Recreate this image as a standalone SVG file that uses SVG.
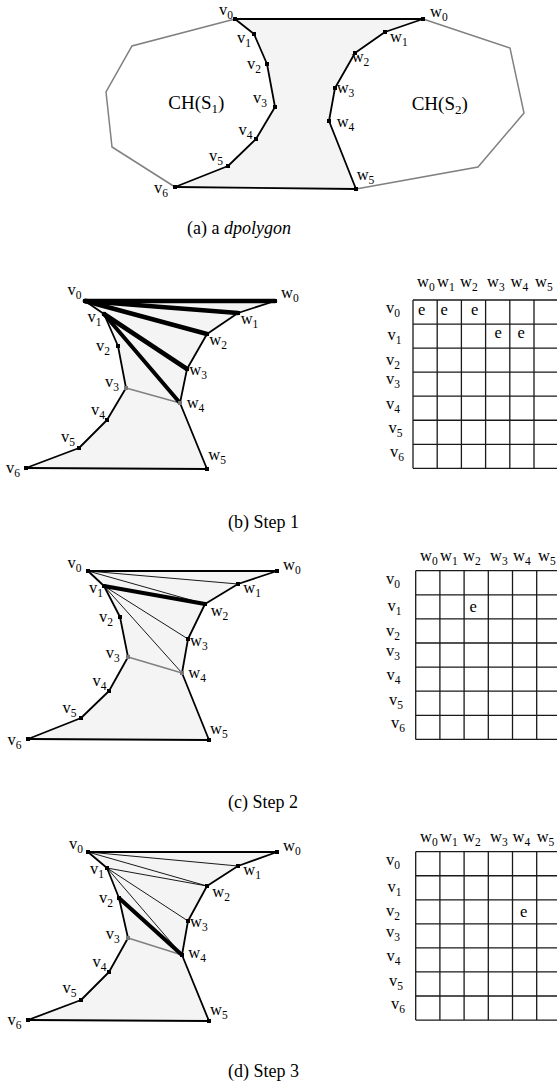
<svg xmlns="http://www.w3.org/2000/svg" width="557" height="1084" viewBox="0 0 557 1084">
<style>
text{font-family:"Liberation Serif","Times New Roman",serif;fill:#000}
.lbl{font-size:16.5px}
.sub{font-size:11.5px}
.big{font-size:19px}
.bsub{font-size:13px}
.cap{font-size:18px}
.poly{fill:#f4f4f4;stroke:none}
.hull{fill:none;stroke:#808080;stroke-width:1.5}
.edge{fill:none;stroke:#000;stroke-width:1.8;stroke-linejoin:round}
.thick{stroke:#000;stroke-width:4.5;stroke-linecap:round}
.mid{stroke:#000;stroke-width:4;stroke-linecap:round}
.thin{stroke:#000;stroke-width:0.9}
.gray{stroke:#808080;stroke-width:1.5}
.grid{fill:none;stroke:#1a1a1a;stroke-width:1.3}
.pt{fill:#000}
.gpt{fill:#777}
</style>

<!-- ===== (a) ===== -->
<g id="panel-a">
<polygon class="poly" points="235,19 254,34 267,64 275,107 256,139 228,166 175,187 356,189 329,121 335,88 355,53 385,32 423,19"/>
<g id="a-connectors">
<polyline class="hull" points="235,19 132,46 106,92 112,147 175,187"/>
<polyline class="hull" points="423,19 510,48 524,113 478,167 356,189"/>
<polyline class="edge" points="235,19 254,34 267,64 275,107 256,139 228,166 175,187"/>
<polyline class="edge" points="423,19 385,32 355,53 335,88 329,121 356,189"/>
<line class="edge" x1="235" y1="19" x2="423" y2="19"/>
<line class="edge" x1="175" y1="187" x2="356" y2="189"/>
</g>
<g id="a-v0"><rect class="pt" x="233" y="17" width="4" height="4"/><text class="lbl" x="219" y="15">v<tspan class="sub" dy="4">0</tspan></text></g>
<g id="a-v1"><rect class="pt" x="252" y="32" width="4" height="4"/><text class="lbl" x="237" y="42.7">v<tspan class="sub" dy="4">1</tspan></text></g>
<g id="a-v2"><rect class="pt" x="265" y="62" width="4" height="4"/><text class="lbl" x="247" y="69.3">v<tspan class="sub" dy="4">2</tspan></text></g>
<g id="a-v3"><rect class="pt" x="273" y="105" width="4" height="4"/><text class="lbl" x="253" y="103.3">v<tspan class="sub" dy="4">3</tspan></text></g>
<g id="a-v4"><rect class="pt" x="254" y="137" width="4" height="4"/><text class="lbl" x="238.5" y="135">v<tspan class="sub" dy="4">4</tspan></text></g>
<g id="a-v5"><rect class="pt" x="226" y="164" width="4" height="4"/><text class="lbl" x="209" y="160.7">v<tspan class="sub" dy="4">5</tspan></text></g>
<g id="a-v6"><rect class="pt" x="173" y="185" width="4" height="4"/><text class="lbl" x="154" y="193">v<tspan class="sub" dy="4">6</tspan></text></g>
<g id="a-w0"><rect class="pt" x="421" y="17" width="4" height="4"/><text class="lbl" x="430" y="16.7">w<tspan class="sub" dy="4">0</tspan></text></g>
<g id="a-w1"><rect class="pt" x="383" y="30" width="4" height="4"/><text class="lbl" x="390" y="41.7">w<tspan class="sub" dy="4">1</tspan></text></g>
<g id="a-w2"><rect class="pt" x="353" y="51" width="4" height="4"/><text class="lbl" x="351.7" y="61.7">w<tspan class="sub" dy="4">2</tspan></text></g>
<g id="a-w3"><rect class="pt" x="333" y="86" width="4" height="4"/><text class="lbl" x="336.7" y="93.3">w<tspan class="sub" dy="4">3</tspan></text></g>
<g id="a-w4"><rect class="pt" x="327" y="119" width="4" height="4"/><text class="lbl" x="336.7" y="126.7">w<tspan class="sub" dy="4">4</tspan></text></g>
<g id="a-w5"><rect class="pt" x="354" y="187" width="4" height="4"/><text class="lbl" x="356.7" y="180">w<tspan class="sub" dy="4">5</tspan></text></g>
<g id="a-ch1"><text class="big" x="168.3" y="109.3">CH(S<tspan class="bsub" dy="4">1</tspan><tspan dy="-4">)</tspan></text></g>
<g id="a-ch2"><text class="big" x="411.7" y="110">CH(S<tspan class="bsub" dy="4">2</tspan><tspan dy="-4">)</tspan></text></g>
<text class="cap" x="187" y="234.3">(a) a <tspan font-style="italic">dpolygon</tspan></text>
</g>

<!-- ===== (b) Step 1 ===== -->
<g id="panel-b">
<polygon class="poly" points="85,301 104,314 118,346 126,388 107,420 79,448 26,468 207,469 180,403 187,369 207,334 238,313 275,301"/>
<g id="b-connectors">
<polyline class="edge" points="85,301 104,314 118,346 126,388 107,420 79,448 26,468"/>
<polyline class="edge" points="275,301 238,313 207,334 187,369 180,403 207,469"/>
<line class="edge" x1="26" y1="468" x2="207" y2="469"/>
<line class="gray" x1="126" y1="388" x2="180" y2="403"/>
<line class="thick" x1="85" y1="301" x2="275" y2="301"/>
<line class="thick" x1="85" y1="301" x2="238" y2="313"/>
<line class="thick" x1="85" y1="301" x2="207" y2="334"/>
<line class="thick" x1="104" y1="314" x2="187" y2="369"/>
<line class="mid" x1="104" y1="314" x2="180" y2="403"/>
</g>
<g id="b-v0"><rect class="pt" x="83" y="299" width="4" height="4"/><text class="lbl" x="67.5" y="295">v<tspan class="sub" dy="4">0</tspan></text></g>
<g id="b-v1"><rect class="pt" x="102" y="312" width="4" height="4"/><text class="lbl" x="87.5" y="321.7">v<tspan class="sub" dy="4">1</tspan></text></g>
<g id="b-v2"><rect class="pt" x="116" y="344" width="4" height="4"/><text class="lbl" x="96" y="350.7">v<tspan class="sub" dy="4">2</tspan></text></g>
<g id="b-v3"><rect class="gpt" x="124" y="386" width="4" height="4"/><text class="lbl" x="105" y="387.3">v<tspan class="sub" dy="4">3</tspan></text></g>
<g id="b-v4"><rect class="pt" x="105" y="418" width="4" height="4"/><text class="lbl" x="91" y="415">v<tspan class="sub" dy="4">4</tspan></text></g>
<g id="b-v5"><rect class="pt" x="77" y="446" width="4" height="4"/><text class="lbl" x="61" y="441.7">v<tspan class="sub" dy="4">5</tspan></text></g>
<g id="b-v6"><rect class="pt" x="24" y="466" width="4" height="4"/><text class="lbl" x="6" y="473.3">v<tspan class="sub" dy="4">6</tspan></text></g>
<g id="b-w0"><rect class="pt" x="273" y="299" width="4" height="4"/><text class="lbl" x="281" y="298">w<tspan class="sub" dy="4">0</tspan></text></g>
<g id="b-w1"><rect class="pt" x="236" y="311" width="4" height="4"/><text class="lbl" x="240.7" y="324">w<tspan class="sub" dy="4">1</tspan></text></g>
<g id="b-w2"><rect class="pt" x="205" y="332" width="4" height="4"/><text class="lbl" x="209.3" y="345">w<tspan class="sub" dy="4">2</tspan></text></g>
<g id="b-w3"><rect class="pt" x="185" y="367" width="4" height="4"/><text class="lbl" x="189.3" y="375">w<tspan class="sub" dy="4">3</tspan></text></g>
<g id="b-w4"><rect class="gpt" x="178" y="401" width="4" height="4"/><text class="lbl" x="186.7" y="408.3">w<tspan class="sub" dy="4">4</tspan></text></g>
<g id="b-w5"><rect class="pt" x="205" y="467" width="4" height="4"/><text class="lbl" x="208.3" y="460">w<tspan class="sub" dy="4">5</tspan></text></g>
<g id="b-table">
<path class="grid" d="M413,300H557M413,324.05H557M413,348.1H557M413,372.15H557M413,396.2H557M413,420.25H557M413,444.3H557M413,468.35H557M413,300V468.35M437.2,300V468.35M461.4,300V468.35M485.6,300V468.35M509.8,300V468.35M534,300V468.35"/>
<text class="lbl" x="417" y="287">w<tspan class="sub" dy="4">0</tspan></text>
<text class="lbl" x="437" y="287">w<tspan class="sub" dy="4">1</tspan></text>
<text class="lbl" x="460" y="287">w<tspan class="sub" dy="4">2</tspan></text>
<text class="lbl" x="487" y="287">w<tspan class="sub" dy="4">3</tspan></text>
<text class="lbl" x="510.5" y="287">w<tspan class="sub" dy="4">4</tspan></text>
<text class="lbl" x="535" y="287">w<tspan class="sub" dy="4">5</tspan></text>
<text class="lbl" x="386" y="313">v<tspan class="sub" dy="4">0</tspan></text>
<text class="lbl" x="387.5" y="340">v<tspan class="sub" dy="4">1</tspan></text>
<text class="lbl" x="386" y="364.5">v<tspan class="sub" dy="4">2</tspan></text>
<text class="lbl" x="386" y="384">v<tspan class="sub" dy="4">3</tspan></text>
<text class="lbl" x="386" y="408.5">v<tspan class="sub" dy="4">4</tspan></text>
<text class="lbl" x="388.5" y="433">v<tspan class="sub" dy="4">5</tspan></text>
<text class="lbl" x="390" y="457">v<tspan class="sub" dy="4">6</tspan></text>
<text class="lbl" x="418" y="315">e</text>
<text class="lbl" x="440.5" y="315">e</text>
<text class="lbl" x="471" y="315">e</text>
<text class="lbl" x="494.5" y="338">e</text>
<text class="lbl" x="517.5" y="338">e</text>
</g>
<text class="cap" x="228" y="528.3">(b) Step 1</text>
</g>

<!-- ===== (c) Step 2 ===== -->
<g id="panel-c">
<polygon class="poly" points="88,571 104,586 120,617 128,657 109,691 81,718 28,739 209,740 182,673 188,639 205,604 238,584 277,571"/>
<g id="c-connectors">
<polyline class="edge" points="88,571 104,586 120,617 128,657 109,691 81,718 28,739"/>
<polyline class="edge" points="277,571 238,584 205,604 188,639 182,673 209,740"/>
<line class="edge" x1="28" y1="739" x2="209" y2="740"/>
<line class="edge" x1="88" y1="571" x2="277" y2="571"/>
<line class="gray" x1="128" y1="657" x2="182" y2="673"/>
<line class="thin" x1="88" y1="571" x2="238" y2="584"/>
<line class="thin" x1="88" y1="571" x2="205" y2="604"/>
<line class="thin" x1="104" y1="586" x2="188" y2="639"/>
<line class="thin" x1="104" y1="586" x2="182" y2="673"/>
<line class="mid" x1="104" y1="586" x2="205" y2="604"/>
</g>
<g id="c-v0"><rect class="pt" x="86" y="569" width="4" height="4"/><text class="lbl" x="67.5" y="568.3">v<tspan class="sub" dy="4">0</tspan></text></g>
<g id="c-v1"><rect class="pt" x="102" y="584" width="4" height="4"/><text class="lbl" x="89" y="593.3">v<tspan class="sub" dy="4">1</tspan></text></g>
<g id="c-v2"><rect class="pt" x="118" y="615" width="4" height="4"/><text class="lbl" x="99" y="621.7">v<tspan class="sub" dy="4">2</tspan></text></g>
<g id="c-v3"><rect class="gpt" x="126" y="655" width="4" height="4"/><text class="lbl" x="105.7" y="658.3">v<tspan class="sub" dy="4">3</tspan></text></g>
<g id="c-v4"><rect class="pt" x="107" y="689" width="4" height="4"/><text class="lbl" x="92.5" y="685.7">v<tspan class="sub" dy="4">4</tspan></text></g>
<g id="c-v5"><rect class="pt" x="79" y="716" width="4" height="4"/><text class="lbl" x="62.5" y="712.7">v<tspan class="sub" dy="4">5</tspan></text></g>
<g id="c-v6"><rect class="pt" x="26" y="737" width="4" height="4"/><text class="lbl" x="7.5" y="745">v<tspan class="sub" dy="4">6</tspan></text></g>
<g id="c-w0"><rect class="pt" x="275" y="569" width="4" height="4"/><text class="lbl" x="283" y="570">w<tspan class="sub" dy="4">0</tspan></text></g>
<g id="c-w1"><rect class="pt" x="236" y="582" width="4" height="4"/><text class="lbl" x="243.3" y="593.3">w<tspan class="sub" dy="4">1</tspan></text></g>
<g id="c-w2"><rect class="pt" x="203" y="602" width="4" height="4"/><text class="lbl" x="210.7" y="616">w<tspan class="sub" dy="4">2</tspan></text></g>
<g id="c-w3"><rect class="pt" x="186" y="637" width="4" height="4"/><text class="lbl" x="190" y="646">w<tspan class="sub" dy="4">3</tspan></text></g>
<g id="c-w4"><rect class="gpt" x="180" y="671" width="4" height="4"/><text class="lbl" x="188.3" y="678.3">w<tspan class="sub" dy="4">4</tspan></text></g>
<g id="c-w5"><rect class="pt" x="207" y="738" width="4" height="4"/><text class="lbl" x="210" y="734">w<tspan class="sub" dy="4">5</tspan></text></g>
<g id="c-table">
<path class="grid" d="M415.7,570.7H557M415.7,594.8H557M415.7,618.9H557M415.7,643H557M415.7,667.1H557M415.7,691.2H557M415.7,715.3H557M415.7,739.4H557M415.7,570.7V739.4M439.9,570.7V739.4M464.1,570.7V739.4M488.3,570.7V739.4M512.5,570.7V739.4M536.7,570.7V739.4"/>
<text class="lbl" x="420" y="561">w<tspan class="sub" dy="4">0</tspan></text>
<text class="lbl" x="440" y="561">w<tspan class="sub" dy="4">1</tspan></text>
<text class="lbl" x="463" y="561">w<tspan class="sub" dy="4">2</tspan></text>
<text class="lbl" x="490" y="561">w<tspan class="sub" dy="4">3</tspan></text>
<text class="lbl" x="513" y="561">w<tspan class="sub" dy="4">4</tspan></text>
<text class="lbl" x="538" y="561">w<tspan class="sub" dy="4">5</tspan></text>
<text class="lbl" x="386" y="583.5">v<tspan class="sub" dy="4">0</tspan></text>
<text class="lbl" x="387.5" y="610.5">v<tspan class="sub" dy="4">1</tspan></text>
<text class="lbl" x="386" y="635.5">v<tspan class="sub" dy="4">2</tspan></text>
<text class="lbl" x="386" y="656">v<tspan class="sub" dy="4">3</tspan></text>
<text class="lbl" x="386.5" y="680">v<tspan class="sub" dy="4">4</tspan></text>
<text class="lbl" x="389" y="704.5">v<tspan class="sub" dy="4">5</tspan></text>
<text class="lbl" x="391" y="728">v<tspan class="sub" dy="4">6</tspan></text>
<text class="lbl" x="469.5" y="611.5">e</text>
</g>
<text class="cap" x="228" y="808.3">(c) Step 2</text>
</g>

<!-- ===== (d) Step 3 ===== -->
<g id="panel-d">
<polygon class="poly" points="88,852 107,868 119,898 128,938 109,972 81,1000 28,1020 209,1021 182,955 188,921 207,886 238,866 277,852"/>
<g id="d-connectors">
<polyline class="edge" points="88,852 107,868 119,898 128,938 109,972 81,1000 28,1020"/>
<polyline class="edge" points="277,852 238,866 207,886 188,921 182,955 209,1021"/>
<line class="edge" x1="28" y1="1020" x2="209" y2="1021"/>
<line class="edge" x1="88" y1="852" x2="277" y2="852"/>
<line class="gray" x1="128" y1="938" x2="182" y2="955"/>
<line class="thin" x1="88" y1="852" x2="238" y2="866"/>
<line class="thin" x1="88" y1="852" x2="207" y2="886"/>
<line class="thin" x1="107" y1="868" x2="207" y2="886"/>
<line class="thin" x1="107" y1="868" x2="188" y2="921"/>
<line class="thin" x1="107" y1="868" x2="182" y2="955"/>
<line class="mid" x1="119" y1="898" x2="182" y2="955"/>
</g>
<g id="d-v0"><rect class="pt" x="86" y="850" width="4" height="4"/><text class="lbl" x="69" y="849.3">v<tspan class="sub" dy="4">0</tspan></text></g>
<g id="d-v1"><rect class="pt" x="105" y="866" width="4" height="4"/><text class="lbl" x="90" y="874.3">v<tspan class="sub" dy="4">1</tspan></text></g>
<g id="d-v2"><rect class="pt" x="117" y="896" width="4" height="4"/><text class="lbl" x="99" y="903.3">v<tspan class="sub" dy="4">2</tspan></text></g>
<g id="d-v3"><rect class="gpt" x="126" y="936" width="4" height="4"/><text class="lbl" x="105.7" y="939.3">v<tspan class="sub" dy="4">3</tspan></text></g>
<g id="d-v4"><rect class="pt" x="107" y="970" width="4" height="4"/><text class="lbl" x="92.5" y="966.7">v<tspan class="sub" dy="4">4</tspan></text></g>
<g id="d-v5"><rect class="pt" x="79" y="998" width="4" height="4"/><text class="lbl" x="62.5" y="993.3">v<tspan class="sub" dy="4">5</tspan></text></g>
<g id="d-v6"><rect class="pt" x="26" y="1018" width="4" height="4"/><text class="lbl" x="7.5" y="1025">v<tspan class="sub" dy="4">6</tspan></text></g>
<g id="d-w0"><rect class="pt" x="275" y="850" width="4" height="4"/><text class="lbl" x="283" y="851">w<tspan class="sub" dy="4">0</tspan></text></g>
<g id="d-w1"><rect class="pt" x="236" y="864" width="4" height="4"/><text class="lbl" x="243.3" y="875">w<tspan class="sub" dy="4">1</tspan></text></g>
<g id="d-w2"><rect class="pt" x="205" y="884" width="4" height="4"/><text class="lbl" x="212.3" y="897.3">w<tspan class="sub" dy="4">2</tspan></text></g>
<g id="d-w3"><rect class="pt" x="186" y="919" width="4" height="4"/><text class="lbl" x="190" y="927.3">w<tspan class="sub" dy="4">3</tspan></text></g>
<g id="d-w4"><rect class="pt" x="180" y="953" width="4" height="4"/><text class="lbl" x="188.3" y="958.3">w<tspan class="sub" dy="4">4</tspan></text></g>
<g id="d-w5"><rect class="pt" x="207" y="1019" width="4" height="4"/><text class="lbl" x="210" y="1015">w<tspan class="sub" dy="4">5</tspan></text></g>
<g id="d-table">
<path class="grid" d="M415.7,851.7H557M415.7,875.75H557M415.7,899.8H557M415.7,923.85H557M415.7,947.9H557M415.7,971.95H557M415.7,996H557M415.7,1020.05H557M415.7,851.7V1020.05M439.9,851.7V1020.05M464.1,851.7V1020.05M488.3,851.7V1020.05M512.5,851.7V1020.05M536.7,851.7V1020.05"/>
<text class="lbl" x="420" y="842">w<tspan class="sub" dy="4">0</tspan></text>
<text class="lbl" x="440" y="842">w<tspan class="sub" dy="4">1</tspan></text>
<text class="lbl" x="463" y="842">w<tspan class="sub" dy="4">2</tspan></text>
<text class="lbl" x="490" y="842">w<tspan class="sub" dy="4">3</tspan></text>
<text class="lbl" x="512.5" y="842">w<tspan class="sub" dy="4">4</tspan></text>
<text class="lbl" x="536.7" y="842">w<tspan class="sub" dy="4">5</tspan></text>
<text class="lbl" x="386" y="864.5">v<tspan class="sub" dy="4">0</tspan></text>
<text class="lbl" x="387.5" y="891.5">v<tspan class="sub" dy="4">1</tspan></text>
<text class="lbl" x="386" y="916">v<tspan class="sub" dy="4">2</tspan></text>
<text class="lbl" x="386" y="937">v<tspan class="sub" dy="4">3</tspan></text>
<text class="lbl" x="386.5" y="961">v<tspan class="sub" dy="4">4</tspan></text>
<text class="lbl" x="389" y="985.5">v<tspan class="sub" dy="4">5</tspan></text>
<text class="lbl" x="391" y="1009">v<tspan class="sub" dy="4">6</tspan></text>
<text class="lbl" x="520" y="916.7">e</text>
</g>
<text class="cap" x="228" y="1076.7">(d) Step 3</text>
</g>
</svg>
